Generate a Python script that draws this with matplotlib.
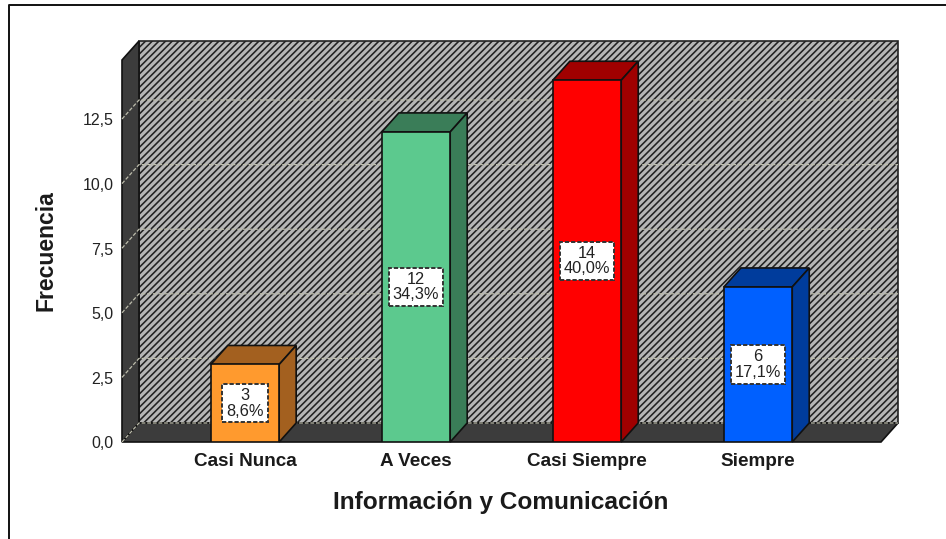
import matplotlib
matplotlib.use("Agg")
import matplotlib.pyplot as plt
from matplotlib.patches import Polygon, Rectangle
from matplotlib.lines import Line2D

plt.rcParams['font.family'] = ['Liberation Sans', 'DejaVu Sans']
plt.rcParams['hatch.linewidth'] = 1.15
plt.rcParams['hatch.color'] = '#3a3a3a'

categories = ['Casi Nunca', 'A Veces', 'Casi Siempre', 'Siempre']
counts = [3, 12, 14, 6]
percent_labels = ['8,6%', '34,3%', '40,0%', '17,1%']
front_colors = ['#ff9a2e', '#5cc98e', '#ff0000', '#0060ff']
side_colors = ['#a3601f', '#3a7d58', '#a00000', '#003c9c']
y_ticks = [0, 2.5, 5, 7.5, 10, 12.5]
y_tick_labels = ['0,0', '2,5', '5,0', '7,5', '10,0', '12,5']
x_label = 'Información y Comunicación'
y_label = 'Frecuencia'

W, H = 946, 539
fig = plt.figure(figsize=(W / 100, H / 100), dpi=100, facecolor='white')

# front plane of the pseudo-3D box, in pixels
L, R, B, T = 122, 881, 442, 60
ax = fig.add_axes([L / W, 1 - B / H, (R - L) / W, (B - T) / H])
ax.set_xlim(-0.719, 3.719)
ax.set_ylim(0, (B - T) / 25.84)
ax.axis('off')

x0, x1 = ax.get_xlim()
y0, y1 = ax.get_ylim()
dx = 17 / 171
dy = 19 / 25.84
bar_w = 0.4


def poly(points, fc, z, lw=1.2, ec='#111111'):
    ax.add_patch(Polygon(points, closed=True, fc=fc, ec=ec, lw=lw, zorder=z, clip_on=False))


# back wall
ax.add_patch(Rectangle((x0 + dx, y0 + dy), x1 - x0, y1 - y0, fc='#b6b6b6', ec='#222222',
                       hatch='/////', lw=1.2, zorder=1, clip_on=False))
# left wall and floor
poly([(x0, y0), (x0 + dx, y0 + dy), (x0 + dx, y1 + dy), (x0, y1)], '#3c3c3c', 2)
poly([(x0, y0), (x0 + dx, y0 + dy), (x1 + dx, y0 + dy), (x1, y0)], '#3c3c3c', 2)

# dashed grid lines
for t in y_ticks:
    ax.plot([x0, x0 + dx, x1 + dx], [t, t + dy, t + dy], color='#bdbdac', lw=0.9,
            ls=(0, (3, 1.5)), zorder=3, clip_on=False)

# bars
for i, v in enumerate(counts):
    a, b = i - bar_w / 2, i + bar_w / 2
    poly([(a, v), (b, v), (b + dx, v + dy), (a + dx, v + dy)], side_colors[i], 5)
    poly([(b, 0), (b + dx, dy), (b + dx, v + dy), (b, v)], side_colors[i], 5)
    ax.add_patch(Rectangle((a, 0), bar_w, v, fc=front_colors[i], ec='#111111', lw=1.2, zorder=6))
    ax.text(i, v / 2, f'{v}\n{percent_labels[i]}', ha='center', va='center', fontsize=11.8,
            color='#222222', linespacing=1.05, zorder=8,
            bbox=dict(boxstyle='square,pad=0.24', fc='white', ec='#333333', lw=1.4, ls=(0, (2.2, 1))))

# axis ticks and labels
for t, lab in zip(y_ticks, y_tick_labels):
    ax.annotate(lab, xy=(x0, t), xytext=(-6, -1.4), textcoords='offset points', ha='right',
                va='center', fontsize=11.5, color='#222222', annotation_clip=False)
for i, c in enumerate(categories):
    ax.annotate(c, xy=(i, 0), xytext=(0, -14.4), textcoords='offset points', ha='center',
                va='center', fontsize=13.6, fontweight='bold', color='#1a1a1a', annotation_clip=False)

fig.text(501 / W, 1 - 503 / H, x_label, ha='center', va='center', fontsize=17.6,
         fontweight='bold', color='#1a1a1a')
fig.text(46 / W, 1 - 251 / H, y_label, ha='center', va='center', rotation=90, fontsize=16.6,
         fontweight='bold', color='#1a1a1a')

# outer frame: left and top rules only
fig.add_artist(Line2D([9 / W, 9 / W, 1], [0, 1 - 5 / H, 1 - 5 / H], transform=fig.transFigure,
                      color='#111111', lw=1.4))

fig.savefig('out.png', dpi=100)
